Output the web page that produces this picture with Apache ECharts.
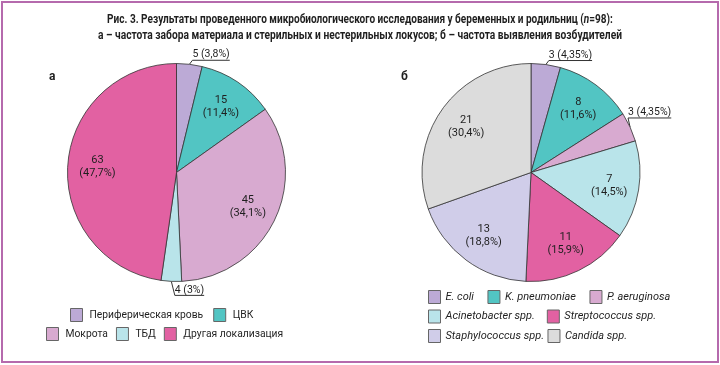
<!DOCTYPE html>
<html><head><meta charset="utf-8">
<script src="https://cdn.jsdelivr.net/npm/echarts@6/dist/echarts.min.js"></script>
<style>
html,body{margin:0;padding:0;background:#fff}
#c{width:720px;height:365px}
#f{position:absolute;left:1px;top:1px;width:718px;height:362px;box-sizing:border-box;border:2px solid #b56aad;pointer-events:none}
</style>
</head><body><div id="c"></div><div id="f"></div>
<script>
// ---- data ----
const catsA = ['Периферическая кровь', 'ЦВК', 'Мокрота', 'ТБД', 'Другая локализация'];
const countsA = [5, 15, 45, 4, 63];
const pctA = [3.8, 11.4, 34.1, 3, 47.7];

const catsB = ['E. coli', 'K. pneumoniae', 'P. aeruginosa', 'Acinetobacter spp.', 'Streptococcus spp.', 'Staphylococcus spp.', 'Candida spp.'];
const countsB = [3, 8, 3, 7, 11, 13, 21];
const pctB = [4.35, 11.6, 4.35, 14.5, 15.9, 18.8, 30.4];

const legendRowsA = [['Периферическая кровь', 'ЦВК'], ['Мокрота', 'ТБД', 'Другая локализация']];
const legendRowsB = [['E. coli', 'K. pneumoniae', 'P. aeruginosa'], ['Acinetobacter spp.', 'Streptococcus spp.'], ['Staphylococcus spp.', 'Candida spp.']];

const titleLine1 = 'Рис. 3. Результаты проведенного микробиологического исследования у беременных и родильниц (';
const titleN = 'n';
const titleLine1End = '=98):';
const titleLine2 = 'а – частота забора материала и стерильных и нестерильных локусов; б – частота выявления возбудителей';

// ---- style ----
const colorsA = ['#bcaad6', '#52c5c3', '#d8aad0', '#b9e4ea', '#e261a2'];
const colorsB = ['#bcaad6', '#52c5c3', '#d8aad0', '#b9e4ea', '#e261a2', '#d0cde9', '#dcdcdc'];
const FONT = "Roboto, 'Liberation Sans', sans-serif";
const FS = 10.5;
const TXT = '#1f1f1f';
const R = 109;
const outsideA = [true, false, false, true, false];
const outsideB = [true, false, true, false, false, false, false];
const stepA = {0: [3, -4], 3: [3.5, 14]};
const stepB = {0: [3, -4], 2: [-2, -9]};

function fmt(v) { return String(v).replace('.', ','); }

// title width fitting (condensed look of the original)
const TFONT = 'bold 12.5px Roboto';
const mctx = document.createElement('canvas').getContext('2d');
mctx.font = TFONT;
const w1 = mctx.measureText(titleLine1 + titleN + titleLine1End).width;
const w2 = mctx.measureText(titleLine2).width;
const sx1 = 506 / w1, sx2 = 524 / w2;

function pies(center, cats, values, counts, pcts, colors, outside, step) {
  const main = {
    type: 'pie', center: center, radius: [0, R], startAngle: 90, clockwise: true,
    avoidLabelOverlap: false, silent: true,
    itemStyle: {borderColor: '#333', borderWidth: 0.8},
    label: {
      show: true, position: 'outside', fontFamily: FONT, fontSize: FS, color: TXT, distanceToLabelLine: 0,
      formatter: p => counts[p.dataIndex] + ' (' + fmt(pcts[p.dataIndex]) + '%)'
    },
    labelLine: {show: true, length: 4, length2: 0, lineStyle: {color: '#333', width: 1}},
    labelLayout: function (p) {
      if (!p.labelLinePoints || !step[p.dataIndex]) return {};
      const s = step[p.dataIndex];
      const p0 = p.labelLinePoints[0];
      const x = p0[0] + s[0], y = p0[1] + s[1];
      return {x: x, y: y, align: 'left', verticalAlign: 'bottom',
        labelLinePoints: [p0, [x, y], [x + p.labelRect.width, y]]};
    },
    data: cats.map((n, i) => ({
      name: n, value: values[i], itemStyle: {color: colors[i]},
      label: {show: outside[i]}, labelLine: {show: outside[i]}
    }))
  };
  const lab = {
    type: 'pie', center: center, radius: [0, R * 1.4], startAngle: 90, clockwise: true,
    avoidLabelOverlap: false, silent: true, z: 3,
    itemStyle: {color: 'rgba(0,0,0,0)', borderWidth: 0},
    label: {
      show: true, position: 'inside', fontFamily: FONT, fontSize: FS + 0.5, lineHeight: 13, color: TXT, align: 'center',
      formatter: p => counts[p.dataIndex] + '\n(' + fmt(pcts[p.dataIndex]) + '%)'
    },
    labelLine: {show: false},
    data: values.map((v, i) => ({value: v, label: {show: !outside[i]}}))
  };
  return [main, lab];
}

function legend(data, left, top, gap, italic, pad, fs) {
  return {
    data: data, left: left, top: top, padding: 0, orient: 'horizontal', icon: 'rect',
    itemWidth: 12, itemHeight: 13, itemGap: gap, selectedMode: false,
    itemStyle: {borderColor: '#666', borderWidth: 1},
    textStyle: {fontFamily: FONT, fontSize: fs, color: TXT, fontStyle: italic ? 'italic' : 'normal', padding: [0, 0, 0, pad]}
  };
}

const chart = echarts.init(document.getElementById('c'), null, {renderer: 'canvas'});
chart.setOption({
  backgroundColor: '#fff',
  animation: false,
  title: [
    {text: 'а', left: 44, top: 66, textStyle: {fontFamily: FONT, fontSize: 12, fontWeight: 'bold', color: TXT}},
    {text: 'б', left: 396, top: 66, textStyle: {fontFamily: FONT, fontSize: 12, fontWeight: 'bold', color: TXT}}
  ],
  graphic: [
    {type: 'text', x: 360, y: 20, scaleX: sx1, silent: true,
      style: {text: '{b|' + titleLine1 + '}{i|' + titleN + '}{b|' + titleLine1End + '}', align: 'center', verticalAlign: 'middle',
        rich: {b: {font: TFONT, fill: TXT}, i: {font: 'italic ' + TFONT, fill: TXT}}}},
    {type: 'text', x: 360, y: 36, scaleX: sx2, silent: true,
      style: {text: titleLine2, font: TFONT, fill: TXT, align: 'center', verticalAlign: 'middle'}}
  ],
  legend: [
    legend(legendRowsA[0], 70, 308, 10, false, 2, 10.3),
    legend(legendRowsA[1], 46, 327, 8, false, 2, 10.3),
    legend(legendRowsB[0], 428, 290, 13.5, true, 0, 11),
    legend(legendRowsB[1], 428, 309.5, 12, true, 0, 11),
    legend(legendRowsB[2], 428, 329, 3.5, true, 0, 11)
  ],
  series: [].concat(
    pies([176.5, 172.5], catsA, countsA, countsA, pctA, colorsA, outsideA, stepA),
    pies([531, 172.5], catsB, pctB, countsB, pctB, colorsB, outsideB, stepB)
  )
});
</script>
</body></html>
